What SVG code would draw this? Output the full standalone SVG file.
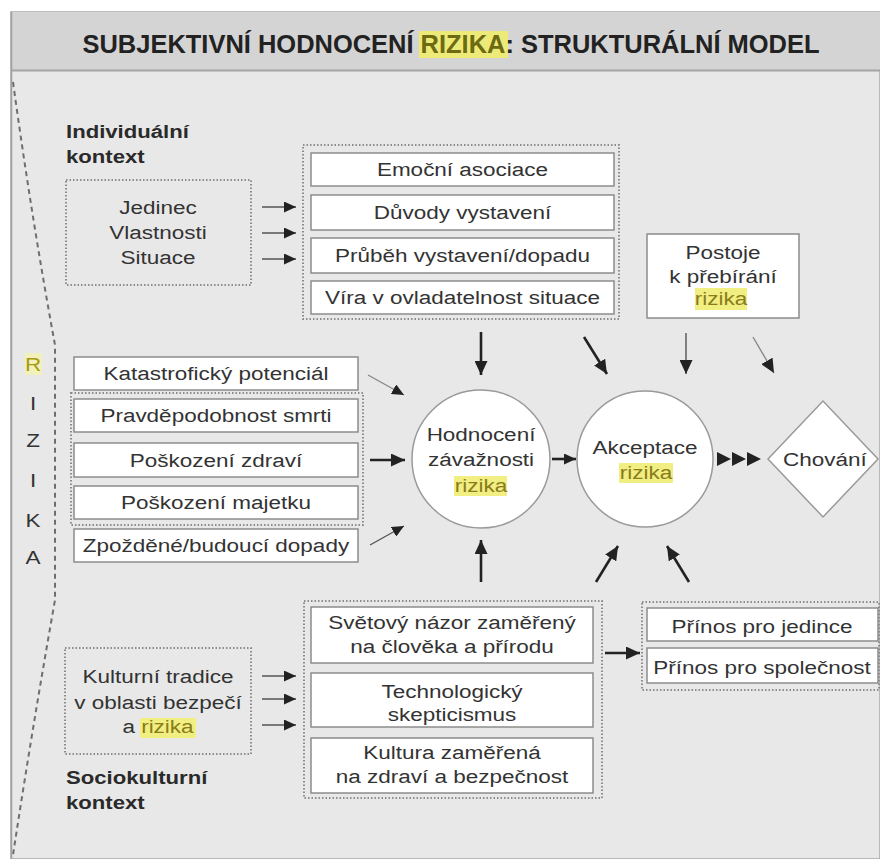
<svg xmlns="http://www.w3.org/2000/svg" width="880" height="859" viewBox="0 0 880 859">
<defs>
<style>
.t{font-family:"Liberation Sans",Arial,sans-serif;font-size:18px;fill:#333;text-anchor:middle}
.b{font-family:"Liberation Sans",Arial,sans-serif;font-size:18px;font-weight:bold;fill:#2a2a2a}
.box{fill:#fff;stroke:#8c8c8c;stroke-width:1.5}
.dot{fill:none;stroke:#8c8c8c;stroke-width:2;stroke-dasharray:1.5 2}
.circ{fill:#fff;stroke:#9a9a9a;stroke-width:1.5}
.hl{fill:#f1ee82}
.hlt{fill:#8a7c1a}
.thin{stroke:#555;stroke-width:1.4;fill:none}
.thick{stroke:#222;stroke-width:2.6;fill:none}
.light{stroke:#888;stroke-width:1.4;fill:none}
</style>
<marker id="ah" viewBox="0 0 12 11" refX="12" refY="5.5" markerWidth="12" markerHeight="11" markerUnits="userSpaceOnUse" orient="auto"><path d="M0,0 L12,5.5 L0,11 z" fill="#222"/></marker>
<marker id="ahb" viewBox="0 0 14 13" refX="14" refY="6.5" markerWidth="14" markerHeight="13" markerUnits="userSpaceOnUse" orient="auto"><path d="M0,0 L14,6.5 L0,13 z" fill="#222"/></marker>
</defs>
<rect x="0" y="0" width="880" height="859" fill="#fff"/>
<rect x="11" y="12" width="869" height="847" fill="#e8e8e8" stroke="#a8a8a8" stroke-width="1.5"/>
<rect x="11" y="12" width="869" height="58" fill="#d4d4d4"/>
<line x1="11" y1="70.5" x2="880" y2="70.5" stroke="#a4a4a4" stroke-width="2"/>
<line x1="11.5" y1="12" x2="11.5" y2="859" stroke="#a0a0a0" stroke-width="1.5"/>

<g id="title">
<rect x="419" y="31" width="89" height="27" fill="#eeea78"/>
<text x="451" y="53" font-family="'Liberation Sans',Arial,sans-serif" font-size="26" font-weight="bold" fill="#222" text-anchor="middle" textLength="737" lengthAdjust="spacingAndGlyphs">SUBJEKTIVNÍ HODNOCENÍ <tspan fill="#6d6a12">RIZIKA</tspan>: STRUKTURÁLNÍ MODEL</text>
</g>

<g id="rizika-bracket">
<path d="M13,82 Q32,220 55,345 L55,600 Q32,730 13,855" fill="none" stroke="#6e6e6e" stroke-width="2" stroke-dasharray="5 4"/>
<rect x="25" y="353" width="17" height="22" fill="#f4f3b0" opacity="0.8"/>
<text class="t" transform="translate(33,371) scale(1.25,1)" style="fill:#a89a10">R</text>
<text class="t" transform="translate(33,410) scale(1.25,1)">I</text>
<text class="t" transform="translate(33,447) scale(1.25,1)">Z</text>
<text class="t" transform="translate(33,487) scale(1.25,1)">I</text>
<text class="t" transform="translate(33,527) scale(1.25,1)">K</text>
<text class="t" transform="translate(33,564) scale(1.25,1)">A</text>
</g>

<g id="individual-label">
<text class="b" transform="translate(66,138) scale(1.23,1)">Individuální</text>
<text class="b" transform="translate(66,163) scale(1.23,1)">kontext</text>
</g>

<g id="jedinec">
<rect class="dot" x="66" y="180" width="185" height="105"/>
<text class="t" transform="translate(158,214) scale(1.25,1)">Jedinec</text>
<text class="t" transform="translate(158,239) scale(1.25,1)">Vlastnosti</text>
<text class="t" transform="translate(158,264) scale(1.25,1)">Situace</text>
</g>

<g id="individual-factors">
<rect class="dot" x="303" y="145" width="316" height="174"/>
<g id="emocni"><rect class="box" x="311" y="153" width="303" height="33"/><text class="t" transform="translate(462.5,176) scale(1.25,1)">Emoční asociace</text></g>
<g id="duvody"><rect class="box" x="311" y="195" width="303" height="35"/><text class="t" transform="translate(462.5,219) scale(1.25,1)">Důvody vystavení</text></g>
<g id="prubeh"><rect class="box" x="311" y="238" width="303" height="35"/><text class="t" transform="translate(462.5,262) scale(1.25,1)">Průběh vystavení/dopadu</text></g>
<g id="vira"><rect class="box" x="311" y="281" width="303" height="33"/><text class="t" transform="translate(462.5,304) scale(1.25,1)">Víra v ovladatelnost situace</text></g>
</g>

<g id="postoje">
<rect class="box" x="647" y="234" width="152" height="84"/>
<rect class="hl" x="695" y="288" width="52" height="22"/>
<text class="t" transform="translate(723,259) scale(1.25,1)">Postoje</text>
<text class="t" transform="translate(723,283) scale(1.25,1)">k přebírání</text>
<text class="t hlt" transform="translate(721,305) scale(1.25,1)" style="fill:#8a7c1a">rizika</text>
</g>

<g id="katastroficky"><rect class="box" x="74" y="357" width="284" height="33"/><text class="t" transform="translate(216,380) scale(1.25,1)">Katastrofický potenciál</text></g>
<g id="harm-group">
<rect class="dot" x="71" y="393" width="292" height="132"/>
<g id="pravdepodobnost"><rect class="box" x="74" y="399" width="284" height="33"/><text class="t" transform="translate(216,422) scale(1.25,1)">Pravděpodobnost smrti</text></g>
<g id="zdravi"><rect class="box" x="74" y="443" width="284" height="34"/><text class="t" transform="translate(216,466.5) scale(1.25,1)">Poškození zdraví</text></g>
<g id="majetek"><rect class="box" x="74" y="486" width="284" height="33"/><text class="t" transform="translate(216,509) scale(1.25,1)">Poškození majetku</text></g>
</g>
<g id="zpozdene"><rect class="box" x="74" y="529" width="284" height="33"/><text class="t" transform="translate(216,552) scale(1.25,1)">Zpožděné/budoucí dopady</text></g>

<g id="hodnoceni">
<circle class="circ" cx="481" cy="459" r="69"/>
<rect class="hl" x="454" y="476" width="53" height="20"/>
<text class="t" transform="translate(481,441) scale(1.25,1)">Hodnocení</text>
<text class="t" transform="translate(481,466) scale(1.25,1)">závažnosti</text>
<text class="t" transform="translate(481,492) scale(1.25,1)" style="fill:#8a7c1a">rizika</text>
</g>

<g id="akceptace">
<circle class="circ" cx="645" cy="459" r="68"/>
<rect class="hl" x="619" y="463" width="54" height="20"/>
<text class="t" transform="translate(645,454) scale(1.25,1)">Akceptace</text>
<text class="t" transform="translate(646,479) scale(1.25,1)" style="fill:#8a7c1a">rizika</text>
</g>

<g id="chovani">
<polygon points="768,459 823,401 878,459 823,517" fill="#fff" stroke="#9a9a9a" stroke-width="1.5"/>
<text class="t" transform="translate(825,466) scale(1.25,1)">Chování</text>
</g>

<g id="kulturni">
<rect class="dot" x="65" y="648" width="186" height="106"/>
<rect class="hl" x="140" y="718" width="56" height="20"/>
<text class="t" transform="translate(158,683) scale(1.25,1)">Kulturní tradice</text>
<text class="t" transform="translate(158,709) scale(1.25,1)">v oblasti bezpečí</text>
<text class="t" transform="translate(158,733) scale(1.25,1)">a <tspan style="fill:#8a7c1a">rizika</tspan></text>
</g>

<g id="sociocultural-label">
<text class="b" transform="translate(66,784) scale(1.23,1)">Sociokulturní</text>
<text class="b" transform="translate(66,809) scale(1.23,1)">kontext</text>
</g>

<g id="sociocultural-factors">
<rect class="dot" x="304" y="601" width="298" height="197"/>
<g id="svetovy"><rect class="box" x="311" y="607" width="282" height="56"/>
<text class="t" transform="translate(452,629) scale(1.25,1)">Světový názor zaměřený</text>
<text class="t" transform="translate(452,653) scale(1.25,1)">na člověka a přírodu</text></g>
<g id="technologicky"><rect class="box" x="311" y="673" width="282" height="54"/>
<text class="t" transform="translate(452,698) scale(1.25,1)">Technologický</text>
<text class="t" transform="translate(452,721) scale(1.25,1)">skepticismus</text></g>
<g id="kultura"><rect class="box" x="311" y="738" width="282" height="55"/>
<text class="t" transform="translate(452,759) scale(1.25,1)">Kultura zaměřená</text>
<text class="t" transform="translate(452,783) scale(1.25,1)">na zdraví a bezpečnost</text></g>
</g>

<g id="prinos">
<rect class="dot" x="642" y="602" width="237" height="88"/>
<g id="prinos-jedince"><rect class="box" x="647" y="608" width="231" height="33"/><text class="t" transform="translate(762,633) scale(1.25,1)">Přínos pro jedince</text></g>
<g id="prinos-spolecnost"><rect class="box" x="647" y="648" width="231" height="35"/><text class="t" transform="translate(762,674) scale(1.25,1)">Přínos pro společnost</text></g>
</g>

<g id="connectors">
<line class="thin" x1="262" y1="207" x2="296" y2="207" marker-end="url(#ah)"/>
<line class="thin" x1="262" y1="233" x2="296" y2="233" marker-end="url(#ah)"/>
<line class="thin" x1="262" y1="259" x2="296" y2="259" marker-end="url(#ah)"/>
<line class="thick" x1="481" y1="332" x2="481" y2="375" marker-end="url(#ahb)"/>
<line class="thick" x1="584" y1="337" x2="607" y2="374" marker-end="url(#ahb)"/>
<line class="thin" x1="686" y1="333" x2="686" y2="374" marker-end="url(#ahb)"/>
<line class="light" x1="753" y1="337" x2="774" y2="373" marker-end="url(#ahb)"/>
<line class="light" x1="368" y1="375" x2="404" y2="395" marker-end="url(#ah)"/>
<line class="thick" x1="370" y1="460" x2="405" y2="460" marker-end="url(#ahb)"/>
<line class="thin" x1="370" y1="545" x2="404" y2="526" marker-end="url(#ah)"/>
<line class="thick" x1="552" y1="459" x2="576" y2="459" marker-end="url(#ah)"/>
<polygon points="717,452 731,459 717,466" fill="#222"/>
<polygon points="732,452 746,459 732,466" fill="#222"/>
<polygon points="747,452 761,459 747,466" fill="#222"/>
<line class="thick" x1="481" y1="582" x2="481" y2="540" marker-end="url(#ahb)"/>
<line class="thick" x1="596" y1="582" x2="618" y2="546" marker-end="url(#ahb)"/>
<line class="thick" x1="689" y1="582" x2="667" y2="546" marker-end="url(#ahb)"/>
<line class="thick" x1="605" y1="653" x2="640" y2="653" marker-end="url(#ahb)"/>
<line class="thin" x1="262" y1="676" x2="296" y2="676" marker-end="url(#ah)"/>
<line class="thin" x1="262" y1="699" x2="296" y2="699" marker-end="url(#ah)"/>
<line class="thin" x1="262" y1="725" x2="296" y2="725" marker-end="url(#ah)"/>
</g>
</svg>
